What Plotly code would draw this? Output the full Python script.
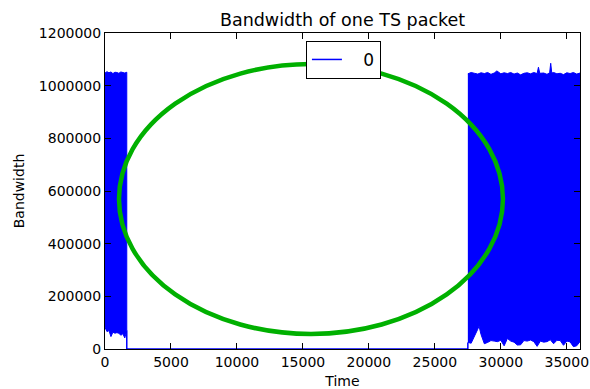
import plotly.graph_objects as go

# ---- data ----
# segment 1 (dense oscillation at start)
seg1_time = [0, 150, 300, 450, 600, 750, 900, 1050, 1200, 1350, 1500, 1650]
seg1_upper = [1048000, 1053000, 1049000, 1052000, 1046000, 1051000, 1050000, 1047000, 1052000, 1050000, 1048000, 1051000]
seg1_lower = [82000, 66000, 70000, 47000, 64000, 60000, 62000, 60000, 52000, 58000, 42000, 70000]

# quiet segment (zero bandwidth)
zero_time = [1650, 1700, 27500]
zero_value = [0, 0, 0]

# segment 3 (dense oscillation at end)
seg3_up_time = [27500, 27750, 28000, 28250, 28500, 28750, 29000, 29250, 29500, 29700, 30000,
                30250, 30500, 30750, 31000, 31250, 31500, 31750, 32000, 32250, 32500, 32750,
                32850, 32950, 33250, 33500, 33700, 33780, 33860, 34000, 34250, 34500, 34750,
                35000, 35250, 35500, 35750, 36000]
seg3_upper = [1045000, 1050000, 1047000, 1044000, 1049000, 1046000, 1050000, 1043000, 1048000, 1056000, 1045000,
              1049000, 1046000, 1050000, 1044000, 1048000, 1041000, 1047000, 1049000, 1045000, 1050000, 1046000,
              1070000, 1047000, 1048000, 1043000, 1049000, 1085000, 1048000, 1050000, 1045000, 1047000, 1042000,
              1049000, 1046000, 1050000, 1044000, 1048000]
seg3_low_time = [27500, 27750, 28000, 28250, 28350, 28500, 28750, 29000, 29250, 29500, 29750, 30000,
                 30250, 30500, 30750, 31000, 31250, 31500, 31750, 32000, 32250, 32500, 32750,
                 33000, 33250, 33500, 33750, 34000, 34250, 34500, 34750, 35000, 35250, 35500, 35750, 36000]
seg3_lower = [25000, 22000, 45000, 75000, 87000, 55000, 20000, 25000, 32000, 30000, 28000, 33000,
              12000, 40000, 30000, 26000, 15000, 16000, 32000, 30000, 34000, 28000, 10000,
              30000, 26000, 28000, 35000, 20000, 33000, 32000, 14000, 30000, 27000, 9000, 12000, 28000]

# hand-drawn highlight ellipse (data units)
ellipse_x = [1060, 30160]
ellipse_y = [57000, 1082000]

x_ticks = [0, 5000, 10000, 15000, 20000, 25000, 30000, 35000]
y_ticks = [0, 200000, 400000, 600000, 800000, 1000000, 1200000]

BLUE = "#0000ff"

fig = go.Figure()

# dense band 1
fig.add_trace(go.Scatter(
    x=seg1_time + seg1_time[::-1],
    y=seg1_upper + seg1_lower[::-1],
    fill="toself", fillcolor=BLUE, mode="lines",
    line=dict(color=BLUE, width=1), showlegend=False, hoverinfo="skip"))

# dense band 3
fig.add_trace(go.Scatter(
    x=seg3_up_time + seg3_low_time[::-1],
    y=seg3_upper + seg3_lower[::-1],
    fill="toself", fillcolor=BLUE, mode="lines",
    line=dict(color=BLUE, width=1), showlegend=False, hoverinfo="skip"))

# the line itself (legend entry "0")
fig.add_trace(go.Scatter(
    x=[seg1_time[-1]] + zero_time + [seg3_low_time[0]],
    y=[seg1_lower[-1]] + zero_value + [seg3_lower[0]],
    mode="lines", line=dict(color=BLUE, width=1.5), name="\u00a0\u00a0\u00a00"))

fig.add_shape(type="circle", xref="x", yref="y",
              x0=ellipse_x[0], x1=ellipse_x[1], y0=ellipse_y[0], y1=ellipse_y[1],
              line=dict(color="#00b000", width=4.5))

font = "DejaVu Sans, sans-serif"
axis_common = dict(
    showgrid=False, zeroline=False, showline=True, linecolor="black", linewidth=1,
    mirror="ticks", ticks="inside", ticklen=6, tickcolor="black", automargin=False,
    tickfont=dict(family=font, size=14, color="black"),
)

fig.update_layout(
    width=590, height=389,
    margin=dict(l=105, r=10, t=33, b=40, autoexpand=False),
    paper_bgcolor="white", plot_bgcolor="white",
    title=dict(text="Bandwidth of one TS packet", x=0.5806, xanchor="center",
               y=0.95, yanchor="middle",
               font=dict(family=font, size=17.5, color="black")),
    font=dict(family=font, color="black"),
    xaxis=dict(range=[0, 36000], tickvals=x_ticks, tickformat="d",
               title=dict(text="Time", font=dict(family=font, size=14), standoff=7),
               **axis_common),
    yaxis=dict(range=[0, 1200000], tickvals=y_ticks, tickformat="d",
               title=dict(text="Bandwidth", font=dict(family=font, size=14), standoff=10),
               **axis_common),
    legend=dict(x=0.423, y=0.975, xanchor="left", yanchor="top",
                bordercolor="black", borderwidth=1, bgcolor="white",
                font=dict(family=font, size=17, color="black"),
                itemwidth=30),
    showlegend=True,
)

fig.write_html("out.html")
